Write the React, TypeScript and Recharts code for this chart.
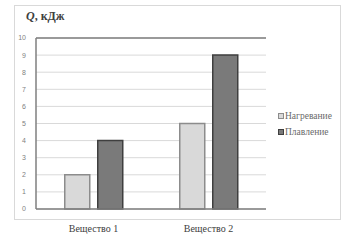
import React from "react";
import { BarChart, Bar, XAxis, YAxis, CartesianGrid, Legend, ReferenceLine } from "recharts";

const categories = ["Вещество 1", "Вещество 2"];
const heating = [2, 5];
const melting = [4, 9];
const yTicks = [0, 1, 2, 3, 4, 5, 6, 7, 8, 9, 10];
const seriesNames = ["Нагревание", "Плавление"];

const data = categories.map((c, i) => ({ name: c, heating: heating[i], melting: melting[i] }));

const SERIF = "'Liberation Serif', 'Times New Roman', serif";

const LegendContent = (props: any) => {
  const items = props.payload || [];
  return (
    <div style={{ fontFamily: SERIF, fontSize: 9.5, color: "#6a6a6a", textAlign: "left" }}>
      {items.map((it: any, i: number) => (
        <div key={i} style={{ display: "flex", alignItems: "center", height: 16 }}>
          <span
            style={{
              display: "inline-block",
              width: 4,
              height: 4,
              background: it.payload.fill,
              border: `1px solid ${it.payload.stroke}`,
              marginRight: 1,
            }}
          />
          <span>{it.value}</span>
        </div>
      ))}
    </div>
  );
};

export default function App() {
  return (
    <div style={{ position: "absolute", left: 0, top: 0, width: 341, height: 243, background: "#fff" }}>
      <div
        style={{
          position: "absolute",
          left: 14,
          top: 5,
          width: 325,
          height: 213,
          border: "1px solid #d9d9d9",
        }}
      />
      <div
        style={{
          position: "absolute",
          left: 26,
          top: 9,
          fontFamily: SERIF,
          fontSize: 12,
          fontWeight: "bold",
          color: "#404040",
          whiteSpace: "nowrap",
        }}
      >
        <i>Q</i>, кДж
      </div>
      <div style={{ position: "absolute", left: 0, top: 0 }}>
        <BarChart
          width={341}
          height={243}
          data={data}
          margin={{ top: 38, right: 75, bottom: 0, left: 0 }}
          barCategoryGap="25%"
          barGap={8}
        >
          <CartesianGrid vertical={false} stroke="#d9d9d9" strokeWidth={1} />
          <XAxis
            dataKey="name"
            height={34}
            tickLine={false}
            tickSize={0}
            tickMargin={16}
            axisLine={{ stroke: "#7f7f7f", strokeWidth: 1.5 }}
            tick={{ fontFamily: SERIF, fontSize: 10, fill: "#404040" }}
          />
          <YAxis
            domain={[0, 10]}
            ticks={yTicks}
            width={36}
            tickLine={false}
            tickMargin={4}
            axisLine={{ stroke: "#7f7f7f", strokeWidth: 1.5 }}
            tick={{ fontFamily: "'Liberation Sans', sans-serif", fontSize: 7, fill: "#7f7f7f" }}
            interval={0}
          />
          <YAxis
            yAxisId="r"
            orientation="right"
            width={0}
            domain={[0, 10]}
            tick={false}
            tickLine={false}
            axisLine={{ stroke: "#7f7f7f", strokeWidth: 1.5 }}
          />
          <ReferenceLine y={10} stroke="#7f7f7f" strokeWidth={1.5} />
          <Legend
            layout="horizontal"
            align="center"
            verticalAlign="middle"
            content={<LegendContent />}
            wrapperStyle={{ position: "absolute", left: 278, top: 108, width: 63, height: 32 }}
          />
          <Bar
            dataKey="heating"
            name={seriesNames[0]}
            fill="#d9d9d9"
            stroke="#8c8c8c"
            strokeWidth={1.5}
            isAnimationActive={false}
          />
          <Bar
            dataKey="melting"
            name={seriesNames[1]}
            fill="#7a7a7a"
            stroke="#3f3f3f"
            strokeWidth={1.5}
            isAnimationActive={false}
          />
        </BarChart>
      </div>
    </div>
  );
}
